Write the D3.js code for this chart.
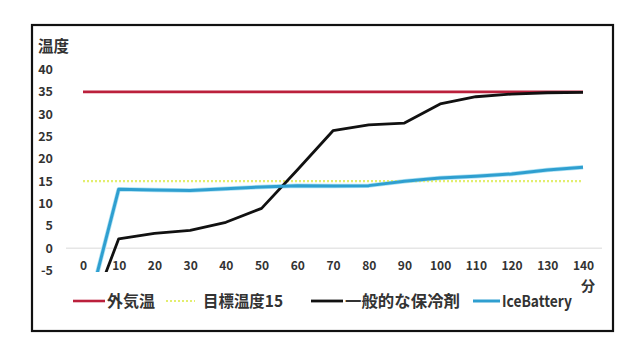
<!DOCTYPE html>
<html><head><meta charset="utf-8">
<script src="https://cdn.jsdelivr.net/npm/d3@7"></script>
<style>body{margin:0;background:#fff;} svg{display:block;}</style>
</head><body>
<script>
const minutes = [0,10,20,30,40,50,60,70,80,90,100,110,120,130,140];
const outsideTemp = [35,35,35,35,35,35,35,35,35,35,35,35,35,35,35];
const targetTemp = [15,15,15,15,15,15,15,15,15,15,15,15,15,15,15];
const generalCoolant = [-19,2.1,3.3,4.0,5.8,8.9,17.5,26.3,27.6,28.0,32.3,33.9,34.5,34.8,34.9];
const iceBattery = [-18,13.2,13.0,12.9,13.3,13.7,14.0,13.9,14.0,15.0,15.7,16.1,16.6,17.5,18.1];
const yTicks = [-5,0,5,10,15,20,25,30,35,40];
const seriesNames = ["外気温","目標温度15","一般的な保冷剤","IceBattery"];

const W=640,H=348;
const svg=d3.select("body").append("svg").attr("width",W).attr("height",H);
const font="'Noto Sans CJK JP','Noto Sans',sans-serif";

svg.append("rect").attr("x",32).attr("y",25).attr("width",581).attr("height",306)
  .attr("fill","#fff").attr("stroke","#111").attr("stroke-width",2.2);

const x=d3.scaleLinear().domain([0,140]).range([83,583]);
const y=d3.scaleLinear().domain([-5,40]).range([270.5,69.5]);

svg.append("defs").append("clipPath").attr("id","plot")
  .append("rect").attr("x",60).attr("y",40).attr("width",545).attr("height",232);

// zero gridline
svg.append("line").attr("x1",66).attr("x2",602).attr("y1",y(0)).attr("y2",y(0))
  .attr("stroke","#d9d9d9").attr("stroke-width",1);

// y axis
const yAxis=svg.append("g").attr("transform","translate(53,0)")
  .call(d3.axisLeft(y).tickValues(yTicks).tickSize(0).tickPadding(0).tickFormat(d=>String(d)));
yAxis.select(".domain").remove();
yAxis.selectAll("text").attr("font-family",font).attr("font-size",12.5).attr("font-weight","bold").attr("fill","#333");

// x axis
const xAxis=svg.append("g").attr("transform","translate(0,261)")
  .call(d3.axisBottom(x).tickValues(minutes).tickSize(0).tickPadding(0));
xAxis.select(".domain").remove();
xAxis.selectAll("text").attr("font-family",font).attr("font-size",12).attr("font-weight","bold").attr("fill","#333");

svg.append("text").attr("x",38).attr("y",52).text("温度").attr("font-family",font)
  .attr("font-size",15.5).attr("font-weight","bold").attr("fill","#333");
svg.append("text").attr("x",588).attr("y",291).attr("text-anchor","middle").text("分").attr("font-family",font)
  .attr("font-size",14).attr("font-weight","bold").attr("fill","#333");

const line=d3.line().x((d,i)=>x(minutes[i])).y(d=>y(d));
const g=svg.append("g").attr("clip-path","url(#plot)");
const styles=[
  {data:outsideTemp,color:"#bb203c",w:2.6,dash:null},
  {data:targetTemp,color:"#e3ee6e",w:2.2,dash:"2,2"},
  {data:generalCoolant,color:"#111",w:2.8,dash:null},
  {data:iceBattery,color:"#2f9fd0",w:3,dash:null}
];
// glow for blue
g.append("path").datum(iceBattery).attr("d",line).attr("fill","none")
  .attr("stroke","#aee2f4").attr("stroke-width",4.5).attr("stroke-linejoin","round");
styles.forEach(s=>{
  g.append("path").datum(s.data).attr("d",line).attr("fill","none")
   .attr("stroke",s.color).attr("stroke-width",s.w).attr("stroke-dasharray",s.dash)
   .attr("stroke-linejoin","round");
});

// legend
const legendX=[[73,105,107,48],[166,195,203,80],[311,343,345,115],[473,500,502,70]];
const ly=301;
styles.forEach((s,i)=>{
  const [a,b,t,len]=legendX[i];
  svg.append("line").attr("x1",a).attr("x2",b).attr("y1",ly).attr("y2",ly)
    .attr("stroke",s.color).attr("stroke-width",s.w).attr("stroke-dasharray",s.dash);
  svg.append("text").attr("x",t).attr("y",ly+6).text(seriesNames[i]).attr("font-family",font)
    .attr("font-size",16).attr("font-weight","bold").attr("fill","#333")
    .attr("textLength",len).attr("lengthAdjust","spacingAndGlyphs");
});
</script>
</body></html>
